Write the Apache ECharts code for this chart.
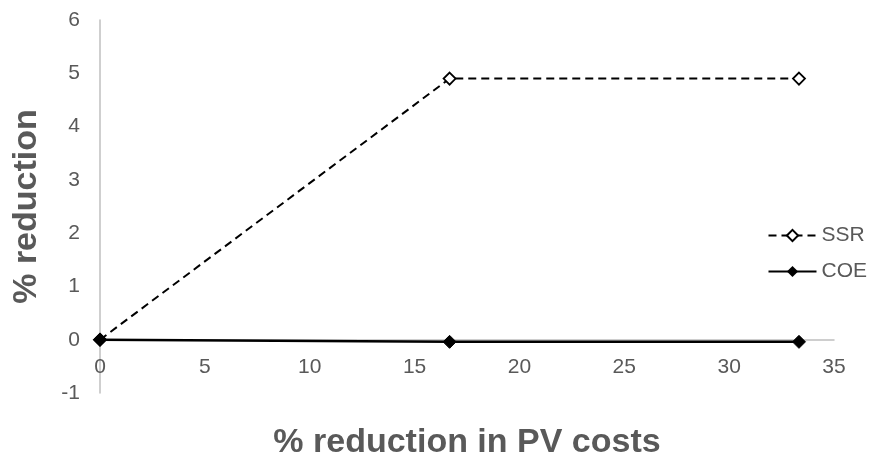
<!DOCTYPE html>
<html><head><meta charset="utf-8">
<script src="https://cdn.jsdelivr.net/npm/echarts@6/dist/echarts.min.js"></script>
<style>html,body{margin:0;padding:0;background:#fff}#c{width:882px;height:464px}</style>
</head><body><div id="c"></div>
<script>
const xValues = [0, 16.67, 33.33];
const ssrValues = [0, 4.9, 4.9];
const coeValues = [0, -0.04, -0.04];
const seriesNames = ['SSR', 'COE'];
const xTitle = '% reduction in PV costs';
const yTitle = '% reduction';

const chart = echarts.init(document.getElementById('c'), null, {renderer: 'canvas'});
const font = 'Liberation Sans, Arial, sans-serif';
const gray = '#595959';
const gridBottom = 71;
const H = 464;
chart.setOption({
  animation: false,
  backgroundColor: '#fff',
  grid: {left: 100, right: 48, top: 20, bottom: gridBottom, outerBoundsMode: 'none', containLabel: false},
  legend: {
    orient: 'vertical', right: 10, top: 220, itemGap: 15,
    itemWidth: 48, itemHeight: 14,
    textStyle: {color: gray, fontSize: 21, fontFamily: font},
    data: seriesNames
  },
  xAxis: {
    type: 'value', min: 0, max: 35, interval: 5,
    name: xTitle, nameLocation: 'middle', nameGap: 86,
    nameTextStyle: {color: gray, fontSize: 34, fontWeight: 'bold', fontFamily: font},
    axisLine: {onZero: false, lineStyle: {color: '#bfbfbf', width: 1.5}},
    axisTick: {show: false},
    splitLine: {show: false},
    axisLabel: {color: gray, fontSize: 21, fontFamily: font, margin: 17}
  },
  yAxis: {
    type: 'value', min: -1, max: 6, interval: 1,
    name: yTitle, nameLocation: 'middle', nameGap: 56,
    nameTextStyle: {color: gray, fontSize: 34, fontWeight: 'bold', fontFamily: font},
    axisLine: {show: true, lineStyle: {color: '#bfbfbf', width: 1.5}},
    axisTick: {show: false},
    splitLine: {show: false},
    axisLabel: {color: gray, fontSize: 21, fontFamily: font, margin: 20}
  },
  series: [
    {
      name: seriesNames[0], type: 'line',
      data: xValues.map((x, i) => [x, ssrValues[i]]),
      symbol: 'diamond', symbolSize: 12, showAllSymbol: true,
      lineStyle: {color: '#000', width: 2, type: [8, 5]},
      itemStyle: {color: '#fff', borderColor: '#000', borderWidth: 1.8},
      z: 3
    },
    {
      name: seriesNames[1], type: 'line',
      data: xValues.map((x, i) => [x, coeValues[i]]),
      symbol: 'diamond', symbolSize: 13, showAllSymbol: true,
      lineStyle: {color: '#000', width: 2.5},
      itemStyle: {color: '#000', borderColor: '#000'},
      z: 4
    }
  ]
});
// place the x axis on y = 0, the way the original chart crosses axes
const zeroY = chart.convertToPixel({yAxisIndex: 0}, 0);
chart.setOption({xAxis: {offset: zeroY - (H - gridBottom)}});
</script></body></html>
